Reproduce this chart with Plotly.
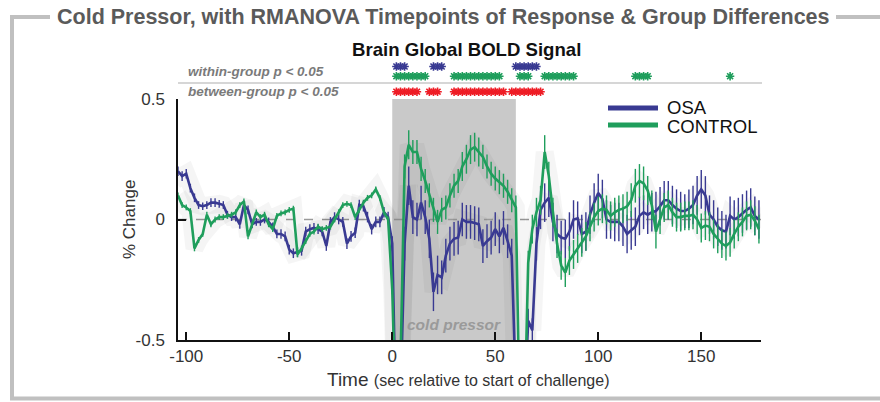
import plotly.graph_objects as go

# ---------------- data ----------------
time_s = list(range(-104, 180, 2))  # sample times (TR = 2 s)

osa = [
    0.20, 0.18, 0.19, 0.13, 0.09, 0.06, 0.055, 0.06, 0.07, 0.07,
    0.065, 0.06, 0.02, 0.01, 0.01, -0.02, 0.06, 0.04, -0.02, -0.01,
    -0.01, 0.0, -0.01, -0.03, -0.06, -0.06, -0.07, -0.125, -0.14, -0.135,
    -0.13, -0.05, -0.04, -0.035, -0.04, -0.05, -0.11, -0.01, 0.01, 0.0,
    -0.01, -0.1, -0.07, -0.055, 0.06, 0.055, 0.01, -0.04, -0.01, -0.01,
    0.03, 0.01, -0.10, -0.9, -0.75, -0.1, 0.14, 0.01, 0.0, 0.07,
    0.01, -0.08, -0.3, -0.23, -0.24, -0.15, -0.1, -0.08, -0.075, 0.0,
    -0.01, -0.01, -0.015, -0.02, -0.11, -0.09, -0.075, -0.04, -0.07, -0.035,
    -0.09, -0.15, -0.7, -0.9, -0.8, -0.42, -0.46, -0.1, 0.04, 0.07,
    0.09, -0.01, -0.06, -0.075, -0.08, -0.05, 0.0, 0.005, -0.06, -0.05,
    0.02, 0.07, 0.11, 0.085, 0.0, -0.01, -0.01, -0.01, -0.03, -0.06,
    -0.045, -0.03, 0.015, 0.03, 0.02, 0.03, 0.035, 0.055, 0.08, 0.08,
    0.06, 0.045, 0.035, 0.035, 0.045, 0.06, 0.1, 0.125, 0.1, 0.02,
    0.0, -0.03, -0.045, -0.05, 0.015, 0.0, 0.01, 0.025, 0.04, 0.05,
    0.015, 0.0,
]
osa_err = [
    0.02, 0.02, 0.02, 0.018, 0.018, 0.016, 0.016, 0.016, 0.018, 0.018,
    0.016, 0.016, 0.016, 0.016, 0.018, 0.018, 0.02, 0.018, 0.016, 0.016,
    0.016, 0.016, 0.018, 0.018, 0.018, 0.02, 0.02, 0.02, 0.02, 0.02,
    0.02, 0.02, 0.02, 0.02, 0.02, 0.02, 0.02, 0.02, 0.02, 0.02,
    0.02, 0.022, 0.022, 0.022, 0.022, 0.022, 0.022, 0.022, 0.022, 0.022,
    0.022, 0.022, 0.03, 0.05, 0.06, 0.07, 0.08, 0.07, 0.07, 0.07,
    0.07, 0.08, 0.08, 0.08, 0.07, 0.07, 0.07, 0.07, 0.07, 0.07,
    0.07, 0.07, 0.07, 0.07, 0.07, 0.07, 0.07, 0.07, 0.07, 0.07,
    0.07, 0.07, 0.06, 0.05, 0.05, 0.05, 0.05, 0.07, 0.08, 0.08,
    0.08, 0.08, 0.08, 0.07, 0.08, 0.08, 0.08, 0.07, 0.08, 0.08,
    0.08, 0.08, 0.08, 0.08, 0.08, 0.07, 0.08, 0.08, 0.08, 0.08,
    0.08, 0.08, 0.08, 0.07, 0.08, 0.08, 0.08, 0.08, 0.08, 0.08,
    0.08, 0.08, 0.08, 0.07, 0.08, 0.08, 0.08, 0.08, 0.08, 0.08,
    0.08, 0.08, 0.08, 0.07, 0.08, 0.08, 0.08, 0.08, 0.08, 0.08,
    0.08, 0.08,
]
control = [
    0.10, 0.06, 0.05, 0.035, -0.12, -0.085, -0.06, 0.02, -0.02, 0.0,
    0.01, 0.01, 0.015, 0.02, 0.03, 0.06, 0.075, -0.07, -0.02, 0.03,
    0.01, 0.02, -0.02, -0.04, 0.015, 0.025, 0.03, 0.04, 0.045, -0.145,
    -0.12, -0.09, -0.06, -0.05, -0.03, -0.04, -0.035, -0.03, 0.0, 0.03,
    0.06, 0.065, 0.06, 0.01, 0.04, 0.07, 0.09, 0.1, 0.125, 0.09,
    0.03, 0.0, -0.29, -0.9, -0.6, 0.22, 0.31, 0.28, 0.28, 0.21,
    0.16, 0.1, 0.04, -0.01, 0.04, 0.05, 0.1, 0.14, 0.16, 0.22,
    0.25, 0.29, 0.3, 0.28, 0.26, 0.22, 0.19, 0.17, 0.155, 0.14,
    0.115, 0.08, 0.05, -0.9, -0.9, -0.18, -0.04, 0.03, 0.08, 0.28,
    0.18, 0.03, -0.1, -0.19, -0.22, -0.17, -0.145, -0.12, -0.095, -0.07,
    -0.03, 0.01, 0.035, 0.045, 0.04, 0.015, 0.03, 0.04, 0.045, 0.055,
    0.08, 0.14, 0.16, 0.15, 0.12, 0.06, -0.05, 0.0, 0.05, 0.06,
    0.03, 0.01, 0.01, 0.015, 0.015, 0.02, 0.0, -0.035, -0.025, -0.03,
    -0.06, -0.08, -0.1, -0.11, -0.095, -0.06, -0.03, -0.01, 0.015, 0.02,
    -0.005, -0.04,
]
control_err = [
    0.012, 0.012, 0.012, 0.012, 0.012, 0.012, 0.012, 0.012, 0.012, 0.012,
    0.012, 0.012, 0.012, 0.012, 0.012, 0.012, 0.012, 0.012, 0.012, 0.012,
    0.012, 0.012, 0.012, 0.012, 0.012, 0.012, 0.012, 0.012, 0.012, 0.012,
    0.012, 0.012, 0.012, 0.012, 0.012, 0.012, 0.012, 0.012, 0.012, 0.012,
    0.012, 0.012, 0.012, 0.012, 0.012, 0.012, 0.012, 0.012, 0.012, 0.012,
    0.012, 0.012, 0.02, 0.04, 0.05, 0.05, 0.06, 0.05, 0.05, 0.05,
    0.05, 0.05, 0.05, 0.05, 0.05, 0.05, 0.05, 0.05, 0.05, 0.06,
    0.06, 0.06, 0.06, 0.06, 0.05, 0.05, 0.05, 0.05, 0.05, 0.05,
    0.05, 0.05, 0.05, 0.05, 0.05, 0.05, 0.06, 0.06, 0.06, 0.07,
    0.06, 0.06, 0.06, 0.06, 0.06, 0.06, 0.06, 0.06, 0.06, 0.06,
    0.06, 0.06, 0.06, 0.06, 0.06, 0.06, 0.06, 0.06, 0.06, 0.06,
    0.07, 0.07, 0.07, 0.07, 0.06, 0.06, 0.07, 0.06, 0.06, 0.06,
    0.06, 0.06, 0.06, 0.06, 0.06, 0.06, 0.06, 0.06, 0.06, 0.06,
    0.06, 0.06, 0.06, 0.06, 0.06, 0.06, 0.06, 0.06, 0.06, 0.06,
    0.06, 0.06,
]

# significant timepoints (sec)
sig_within_osa = [2, 4, 6, 20, 22, 24, 60, 62, 64, 66, 68, 70]
sig_within_control = [2, 4, 6, 8, 10, 12, 14, 16,
                      30, 32, 34, 36, 38, 40, 42, 44, 46, 48, 50, 52,
                      62, 64, 66, 74, 76, 78, 80, 82, 84, 86, 88,
                      118, 120, 122, 124, 164]
sig_between = [2, 4, 6, 8, 10, 12, 18, 20, 22,
               30, 32, 34, 36, 38, 40, 42, 44, 46, 48, 50, 52, 54,
               58, 60, 62, 64, 66, 68, 70, 72]

x_tickvals = [-100, -50, 0, 50, 100, 150]
x_ticktext = ["-100", "-50", "0", "50", "100", "150"]
y_tickvals = [-0.5, 0, 0.5]
y_ticktext = ["-0.5", "0", "0.5"]
challenge = [0, 60]

BLUE = "#393a92"
GREEN = "#1f9e5c"
RED = "#ee1c25"
FONT = "Liberation Sans, Arial, sans-serif"
W, H = 880, 402


def px(x):
    return x / W


def py(y):
    return 1 - y / H


fig = go.Figure()

# soft glow under lines
for vals in (osa, control):
    fig.add_trace(go.Scatter(x=time_s, y=vals, mode="lines",
                             line=dict(color="rgba(0,0,0,0.04)", width=18, shape="linear"),
                             hoverinfo="skip", showlegend=False))

for name, vals, err, col in (("OSA", osa, osa_err, BLUE), ("CONTROL", control, control_err, GREEN)):
    fig.add_trace(go.Scatter(
        x=time_s, y=vals, mode="lines", name=name,
        line=dict(color=col, width=2.6),
        error_y=dict(type="data", array=err, visible=True, color=col, thickness=1.4, width=0),
        showlegend=False,
    ))

# significance rows (on a hidden top axis)
for tpts, yrow, col in ((sig_within_osa, 0.82, BLUE), (sig_within_control, 0.55, GREEN),
                        (sig_between, 0.12, RED)):
    fig.add_trace(go.Scatter(
        x=tpts, y=[yrow] * len(tpts), yaxis="y2", mode="markers",
        marker=dict(symbol="asterisk-open", size=7, color=col, line=dict(color=col, width=1.6)),
        showlegend=False, hoverinfo="skip", cliponaxis=False,
    ))

shapes = [
    dict(type="rect", xref="x", yref="y", x0=challenge[0], x1=challenge[1], y0=-0.5, y1=0.5,
         fillcolor="#c9c9c9", line=dict(width=0), layer="below"),
    dict(type="line", xref="x", yref="y", x0=-104, x1=179, y0=0, y1=0,
         line=dict(color="#9a9a9a", width=1.3, dash="dash"), layer="below"),
    dict(type="line", xref="paper", yref="paper", x0=px(178), x1=px(762), y0=py(83), y1=py(83),
         line=dict(color="#c8c8c8", width=1.5)),
    dict(type="line", xref="paper", yref="paper", x0=px(12), x1=px(12), y0=py(17), y1=py(398.5),
         line=dict(color="#c0c0c0", width=4)),
    dict(type="line", xref="paper", yref="paper", x0=px(10), x1=px(50), y0=py(17), y1=py(17),
         line=dict(color="#c0c0c0", width=4)),
    dict(type="line", xref="paper", yref="paper", x0=px(836), x1=px(880), y0=py(17), y1=py(17),
         line=dict(color="#c0c0c0", width=4)),
    dict(type="line", xref="paper", yref="paper", x0=px(10), x1=px(880), y0=py(398.5), y1=py(398.5),
         line=dict(color="#c0c0c0", width=4)),
    dict(type="line", xref="paper", yref="paper", x0=px(608), x1=px(658), y0=py(108), y1=py(108),
         line=dict(color=BLUE, width=5)),
    dict(type="line", xref="paper", yref="paper", x0=px(608), x1=px(658), y0=py(125), y1=py(125),
         line=dict(color=GREEN, width=5)),
]

annotations = [
    dict(text="<b>Cold Pressor, with RMANOVA Timepoints of Response &amp; Group Differences</b>",
         x=px(443), y=py(17), xref="paper", yref="paper", showarrow=False,
         font=dict(size=21.5, color="#5a5a5a", family=FONT), xanchor="center", yanchor="middle"),
    dict(text="<b>Brain Global BOLD Signal</b>", x=px(467), y=py(50), xref="paper", yref="paper",
         showarrow=False, font=dict(size=18.6, color="#111", family=FONT), xanchor="center", yanchor="middle"),
    dict(text="<b><i>within-group p &lt; 0.05</i></b>", x=px(186), y=py(72), xref="paper", yref="paper",
         showarrow=False, font=dict(size=13.5, color="#7a7a7a", family=FONT), xanchor="left", yanchor="middle"),
    dict(text="<b><i>between-group p &lt; 0.05</i></b>", x=px(186), y=py(91), xref="paper", yref="paper",
         showarrow=False, font=dict(size=13.5, color="#7a7a7a", family=FONT), xanchor="left", yanchor="middle"),
    dict(text="<b><i>cold pressor</i></b>", x=30, y=-0.435, xref="x", yref="y",
         showarrow=False, font=dict(size=15.5, color="#9a9a9a", family=FONT), xanchor="center", yanchor="middle"),
    dict(text="OSA", x=px(665), y=py(107.5), xref="paper", yref="paper", showarrow=False,
         font=dict(size=18.5, color="#111", family=FONT), xanchor="left", yanchor="middle"),
    dict(text="CONTROL", x=px(665), y=py(126), xref="paper", yref="paper", showarrow=False,
         font=dict(size=18.5, color="#111", family=FONT), xanchor="left", yanchor="middle"),
    dict(text="% Change", x=px(130), y=py(220), xref="paper", yref="paper", showarrow=False,
         textangle=-90, font=dict(size=17, color="#333", family=FONT), xanchor="center", yanchor="middle"),
    dict(text="Time <span style='font-size:16px'>(sec relative to start of challenge)</span>",
         x=px(468), y=py(379), xref="paper", yref="paper", showarrow=False,
         font=dict(size=19, color="#333", family=FONT), xanchor="center", yanchor="middle"),
]

fig.update_layout(
    template="none",
    width=W, height=H,
    margin=dict(l=0, r=0, t=0, b=0, pad=0, autoexpand=False),
    paper_bgcolor="white", plot_bgcolor="rgba(0,0,0,0)",
    showlegend=False,
    font=dict(family=FONT, color="#333"),
    xaxis=dict(domain=[px(178), px(761)], range=[-104, 179], showgrid=False, zeroline=False,
               automargin=False,
               showline=True, linecolor="#111", linewidth=1.5,
               ticks="inside", ticklen=8, tickwidth=1.5, tickcolor="#111",
               tickvals=x_tickvals, ticktext=x_ticktext, tickfont=dict(size=17, color="#333")),
    yaxis=dict(domain=[py(340), py(99)], range=[-0.5, 0.5], showgrid=False, zeroline=False,
               automargin=False,
               showline=True, linecolor="#111", linewidth=1.5,
               ticks="inside", ticklen=8, tickwidth=1.5, tickcolor="#111",
               tickvals=y_tickvals, ticktext=y_ticktext, tickfont=dict(size=17, color="#333"),
               ticklabelstandoff=8),
    yaxis2=dict(domain=[py(96), py(60)], range=[0, 1], visible=False, anchor="x", automargin=False),
    shapes=shapes,
    annotations=annotations,
)

fig.write_html(
    "out.html",
    config={"displayModeBar": False},
    post_script="document.body.style.margin='0px';document.body.style.overflow='hidden';",
)
